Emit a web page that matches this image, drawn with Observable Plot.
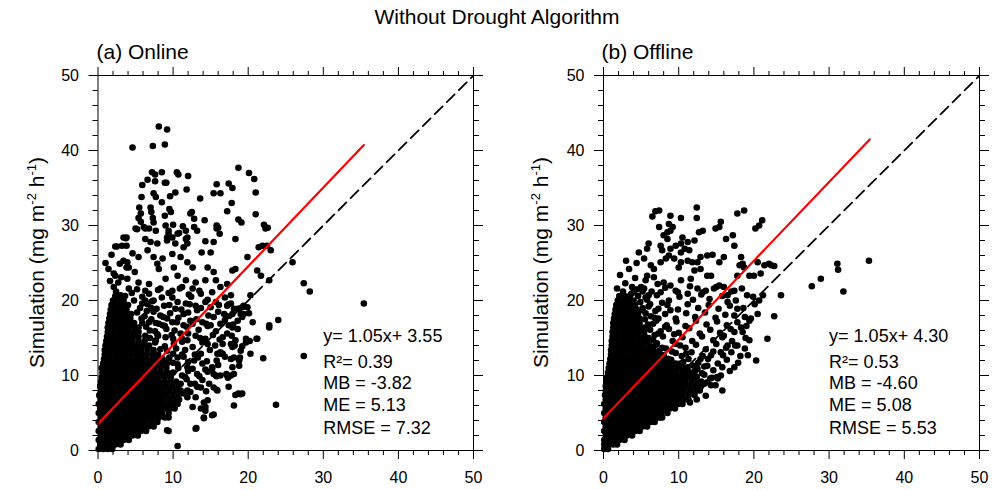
<!DOCTYPE html>
<html>
<head>
<meta charset="utf-8">
<script src="https://cdn.jsdelivr.net/npm/d3@7"></script>
<script src="https://cdn.jsdelivr.net/npm/@observablehq/plot@0.6"></script>
<style>
  html, body { margin: 0; padding: 0; background: #fff; }
  #wrap { position: relative; width: 1002px; height: 490px; overflow: hidden; font-family: "Liberation Sans", Arial, Helvetica, sans-serif; }
  #wrap > svg, #wrap > figure { position: absolute; top: 0; margin: 0; }
</style>
</head>
<body>
<div id="wrap"></div>
<script>
// ---------------- DATA ----------------
const mainTitle = "Without Drought Algorithm";
const panelTitles = ["(a) Online", "(b) Offline"];
const majorTicks = [0, 10, 20, 30, 40, 50];
const tickLabels = ["0", "10", "20", "30", "40", "50"];
const minorTicks = [2, 4, 6, 8, 12, 14, 16, 18, 22, 24, 26, 28, 32, 34, 36, 38, 42, 44, 46, 48];
const oneToOne = [0, 50];

const onlineFit = { slope: 1.05, intercept: 3.55, xMax: 35.4 };
const offlineFit = { slope: 1.05, intercept: 4.30, xMax: 35.4 };
const onlineStats = ["y= 1.05x+ 3.55", "R\u00B2= 0.39", "MB = -3.82", "ME = 5.13", "RMSE = 7.32"];
const offlineStats = ["y= 1.05x+ 4.30", "R\u00B2= 0.53", "MB = -4.60", "ME = 5.08", "RMSE = 5.53"];

// (a) Online: individually read points [observation, simulation]
const onlineSparse = [
  [8.1,43.2],[9.2,42.8],[4.6,40.4],[7.3,40.6],[8.9,40.8],[18.7,37.7],[20.1,37.0],[20.8,36.2],[21.0,34.4],
  [7.2,37.1],[7.6,36.8],[8.5,37.1],[10.5,37.1],[10.7,36.8],[12.0,36.6],[6.6,36.1],[5.9,35.4],[7.6,35.9],
  [8.9,35.7],[9.1,35.7],[7.4,34.3],[7.7,33.8],[5.8,33.8],[8.5,33.1],[9.6,33.9],[10.3,34.4],[11.8,34.8],
  [13.6,33.6],[15.4,34.3],[16.3,34.3],[15.8,35.5],[17.4,35.6],[17.9,35.0],[17.8,33.0],[17.2,31.9],[21.0,31.5],
  [18.7,30.8],[19.1,30.4],[22.1,30.1],[22.6,29.7],[5.5,32.4],[7.0,32.4],[5.7,31.6],[7.1,31.8],[9.5,32.2],
  [9.7,31.8],[8.9,31.3],[5.4,31.0],[5.7,30.5],[7.3,31.0],[7.4,30.4],[12.5,31.8],[12.8,30.9],[14.2,30.7],
  [5.0,29.6],[6.1,29.8],[6.8,29.6],[9.0,30.0],[10.0,30.1],[11.3,29.9],[12.8,29.8],[15.8,30.0],[16.0,29.7],
  [12.3,31.6],[9.4,28.9],[9.9,28.4],[9.2,28.4],[10.6,28.9],[11.9,28.4],[11.4,27.1],[3.4,28.4],[3.8,28.4],
  [2.5,27.2],[3.8,27.3],[2.1,23.6],[3.4,25.3],[3.8,24.4],
  [5.2,29.5],[6.3,29.6],[7.7,29.3],[9.4,29.3],[10.8,29.0],[11.7,29.3],[13.2,29.3],[15.8,29.6],[16.2,28.9],[22.3,29.6],
  [3.7,28.3],[3.2,27.3],[2.3,27.2],[6.3,28.2],[7.0,27.8],[7.9,27.6],[9.2,28.0],[10.3,27.6],[11.7,28.2],[11.9,27.6],
  [14.3,27.9],[15.4,27.8],[18.3,28.2],[21.9,27.3],[6.6,26.7],[5.4,25.8],[3.9,25.1],[4.1,24.4],[7.4,25.8],[8.6,25.6],
  [9.9,26.2],[11.0,25.8],[13.8,26.4],[15.0,26.4],[19.9,25.8],[21.4,27.1],[1.0,25.0],[7.9,24.9],[8.1,24.2],[10.1,24.4],
  [11.9,25.1],[12.6,24.4],[14.6,24.4],[15.4,23.8],[17.9,24.0],[18.3,24.2],[21.2,24.0],[2.3,23.3],[3.9,22.9],[5.4,22.4],
  [6.8,22.2],[9.0,22.9],[10.6,23.3],[11.7,22.7],[13.0,22.4],[14.3,22.7],[15.7,22.7],[17.2,22.2],[21.7,23.3],
  [2.1,21.8],[4.1,21.6],[6.3,21.3],[8.3,21.6],[9.9,21.3],[11.2,21.8],[12.6,21.6],[13.7,20.9],[15.2,21.1],[16.3,21.8],
  [17.7,20.7],[20.3,20.7],[22.8,22.7],[3.0,20.7],[3.2,19.8],[2.8,19.1],[2.3,18.4],[3.0,17.8],[3.7,18.4],[4.1,17.6],
  [6.3,20.0],[7.4,20.0],[8.8,19.3],[9.9,20.4],[10.3,18.9],[11.7,19.6],[13.0,19.3],[14.3,19.8],[15.7,19.8],
  [17.2,19.3],[18.8,18.9],[19.4,19.3],[17.9,18.2],[1.7,17.1],[2.8,16.7],[4.1,16.7],[5.4,16.4],[6.8,17.1],[8.6,16.7],
  [9.9,17.1],[11.4,16.7],[12.6,16.9],[13.9,17.1],[15.0,16.7],[16.3,16.9],[17.4,16.7],[19.2,17.8],[20.6,17.1],[21.2,14.9],
  [22.8,16.7],[2.3,15.3],[3.7,14.9],[6.3,15.3],[7.7,14.7],[9.0,15.1],[11.2,14.9],[13.0,15.3],[14.3,14.9],[16.6,15.1],
  [18.3,14.7],[19.7,14.9],
  [35.4,19.6],[24.0,17.4],[22.8,16.4],[27.4,12.6],[23.7,6.1],[10.6,0.6],[22.0,12.3],[21.1,14.9],[20.2,14.6],[19.7,14.4],
  [20.3,12.9],[19.0,13.3],[18.9,12.4],[18.1,6.0],[18.7,7.6],[19.0,7.5],[17.4,8.5],[17.7,10.0],[18.1,10.2],[16.3,12.9],
  [15.8,9.9],[15.8,8.1],[13.1,3.0],[14.1,4.3],[15.4,4.8],[13.7,5.6],[14.3,5.8],[19.0,18.2],[19.9,19.1],[17.4,19.5],
  [9.4,2.6],[12.3,8.9],[11.9,7.1],[17.2,15.6],[17.7,14.2],
  [18.8,11.3],[17.9,13.8],[17.7,12.2],[16.6,12.9],[16.3,10.0],[17.2,10.0],[15.2,10.9],[15.7,10.0],[15.4,8.4],[14.3,5.3],
  [13.0,2.9],[12.6,5.8],[12.3,7.8],[14.1,6.4],[18.2,14.0],[19.2,13.9],[18.1,12.4],[18.8,12.0],[17.9,11.1],[17.1,10.2],
  [17.3,9.7],[18.3,7.4],[19.2,7.6],[15.8,12.0],[15.4,10.2],[15.9,8.0],[14.6,6.7],[15.2,4.7],[14.1,4.4],[9.2,2.7],
  [9.4,4.4],[16.3,13.1],[16.6,14.2],[17.9,16.4],[18.6,17.3],[19.4,18.2],[19.2,19.1],[14.6,14.2],[13.7,12.9],[12.8,12.0],
  [11.9,11.1],[13.2,10.2],[11.0,8.9],[11.4,7.6],[10.6,6.7],[13.0,7.1],[13.7,8.4],[14.8,8.9],
  [15.2,11.1],[11.4,18.2],[12.3,17.3],[13.2,18.7],[15.0,19.1],[15.4,17.8],[16.8,18.2],[17.7,19.6],[18.6,18.9],
  [11.0,15.6],[11.9,14.7],[10.1,14.2],[9.2,13.3],[10.6,12.4],[8.8,11.6],[0.2,7.3],
  [25.9,25.1],[27.4,22.3],[28.2,21.2],[22.5,27.3],[23.0,26.7],
  [1.6,22.6],[2.7,22.4],[1.4,24.2],[2.9,24.9],[1.8,26.1],[4.6,26.3],[4.9,23.8],[3.1,23.1],[4.5,21.0],[2.4,21.2]
];
// (a) Online: medium-density band (estimated)
const onlineMedium = [
  [5.2,21.5],[6.8,20.9],[8.0,21.4],[9.4,21.0],[10.9,21.6],[12.1,20.8],[13.5,21.3],
  [4.8,20.0],[5.9,20.5],[7.2,19.9],[8.5,20.4],[10.6,19.8],[12.4,20.5],[14.6,20.1],[16.9,20.4],
  [5.6,19.0],[6.6,19.5],[7.8,18.9],[9.5,19.4],[11.1,18.8],[12.2,19.5],[13.7,19.0],[16.1,19.4],[18.1,18.9],
  [5.2,18.4],[6.2,17.9],[7.4,18.5],[8.7,17.8],[9.6,18.3],[10.7,17.7],[12.0,18.4],[14.7,18.0],[16.0,18.5],[17.2,17.9],[20.1,18.3],
  [5.9,17.0],[7.1,17.5],[8.1,16.9],[9.2,17.6],[10.5,17.1],[13.1,17.5],[14.4,16.9],[16.9,17.4],[18.0,16.8],
  [6.4,16.5],[7.6,15.9],[8.9,16.6],[10.2,16.0],[11.8,16.5],[13.4,16.1],[14.6,16.6],[15.7,15.9],[18.6,16.2],
  [6.9,15.0],[7.9,15.5],[10.0,14.9],[12.0,15.6],[13.6,15.0],[15.3,15.4],[16.2,14.8],[17.8,15.3],
  [7.6,14.4],[8.9,13.9],[11.2,14.5],[12.6,13.8],[13.9,14.4],[15.6,14.0],
  [8.3,13.5],[10.0,12.9],[11.6,13.4],[12.9,12.8],[14.9,13.4],[15.9,12.9],
  [9.4,12.0],[11.4,12.5],[12.0,11.8],[13.3,12.4],[14.5,11.9],[16.9,12.5],
  [10.6,11.5],[12.6,10.9],[13.9,11.6],[14.3,10.8],[16.0,11.4],
  [11.2,10.0],[12.0,10.6],[13.5,9.9],[14.6,10.5],
  [11.8,9.5],[12.9,8.9],[13.9,9.4],[11.9,8.0],[13.2,8.5],[14.4,7.9],
  [5.8,17.6],[6.5,18.6],[5.9,19.6],[6.9,16.0],[7.7,17.0],[8.3,18.0],[7.1,19.0],[8.0,15.3],[9.1,16.2],[9.8,15.4],
  [10.4,13.6],[9.5,12.4],[10.7,11.0],[11.6,9.8],[11.2,12.8],[10.0,11.7]
];
// (a) Online: dense core, rows of [simulation, observation, observation, ...]
const onlineDense = [
  [0.2, 0.1, 0.7, 1.3, 1.9],
  [0.8, 0.3, 0.9, 1.6, 2.3, 3.0],
  [1.4, 0.1, 0.7, 1.3, 2.0, 2.7, 3.4, 4.1],
  [2.0, 0.4, 1.0, 1.7, 2.4, 3.1, 3.8, 4.6, 5.3],
  [2.6, 0.1, 0.7, 1.4, 2.1, 2.8, 3.5, 4.2, 4.9, 5.7, 6.4],
  [3.2, 0.4, 1.0, 1.7, 2.4, 3.1, 3.8, 4.5, 5.2, 6.0, 6.7, 7.4],
  [3.8, 0.1, 0.7, 1.4, 2.1, 2.8, 3.5, 4.2, 4.9, 5.6, 6.3, 7.1, 7.9],
  [4.4, 0.4, 1.0, 1.7, 2.4, 3.1, 3.8, 4.5, 5.2, 5.9, 6.6, 7.3, 8.1, 8.9],
  [5.0, 0.1, 0.7, 1.4, 2.1, 2.8, 3.5, 4.2, 4.9, 5.6, 6.3, 7.0, 7.7, 8.5, 9.4],
  [5.6, 0.3, 1.0, 1.7, 2.4, 3.1, 3.8, 4.5, 5.2, 5.9, 6.6, 7.3, 8.0, 8.8, 9.6, 10.2],
  [6.2, 0.1, 0.7, 1.4, 2.1, 2.8, 3.5, 4.2, 4.9, 5.6, 6.3, 7.0, 7.7, 8.4, 9.2, 10.0, 10.6],
  [6.8, 0.4, 1.0, 1.7, 2.4, 3.1, 3.8, 4.5, 5.2, 5.9, 6.6, 7.3, 8.0, 8.7, 9.5, 10.3, 10.8],
  [7.4, 0.2, 0.7, 1.4, 2.1, 2.8, 3.5, 4.2, 4.9, 5.6, 6.3, 7.0, 7.7, 8.4, 9.1, 9.9, 10.7],
  [8.0, 0.4, 1.0, 1.7, 2.4, 3.1, 3.8, 4.5, 5.2, 5.9, 6.6, 7.3, 8.0, 8.7, 9.5, 10.3, 11.0],
  [8.6, 0.3, 0.7, 1.4, 2.1, 2.8, 3.5, 4.2, 4.9, 5.6, 6.3, 7.0, 7.7, 8.4, 9.1, 9.9, 10.7],
  [9.2, 0.4, 1.0, 1.7, 2.4, 3.1, 3.8, 4.5, 5.2, 5.9, 6.6, 7.3, 8.0, 8.8, 9.6, 10.4],
  [9.8, 0.5, 1.1, 1.8, 2.5, 3.2, 3.9, 4.6, 5.3, 6.0, 6.7, 7.4, 8.1, 8.9, 9.7],
  [10.4, 0.6, 1.3, 2.0, 2.7, 3.4, 4.1, 4.8, 5.5, 6.2, 6.9, 7.6, 8.4, 9.2, 10.0],
  [11.0, 0.5, 1.1, 1.8, 2.5, 3.2, 3.9, 4.6, 5.3, 6.0, 6.7, 7.5, 8.3, 9.1],
  [11.6, 0.7, 1.4, 2.1, 2.8, 3.5, 4.2, 4.9, 5.6, 6.3, 7.0, 7.8, 8.6, 9.2],
  [12.2, 0.8, 1.5, 2.2, 2.9, 3.6, 4.3, 5.0, 5.7, 6.4, 7.2, 8.0, 8.6],
  [12.8, 0.9, 1.6, 2.3, 3.0, 3.7, 4.4, 5.1, 5.8, 6.5, 7.3, 8.0],
  [13.4, 0.9, 1.6, 2.3, 3.0, 3.7, 4.4, 5.1, 5.8, 6.6, 7.4],
  [14.0, 1.0, 1.7, 2.4, 3.1, 3.8, 4.5, 5.2, 6.0, 6.8],
  [14.6, 1.1, 1.8, 2.5, 3.2, 3.9, 4.6, 5.4, 6.2],
  [15.2, 1.2, 1.9, 2.6, 3.3, 4.0, 4.7, 5.4],
  [15.8, 1.3, 2.0, 2.7, 3.4, 4.1, 4.8, 5.4],
  [16.4, 1.3, 2.0, 2.7, 3.4, 4.1, 4.9],
  [17.0, 1.4, 2.1, 2.8, 3.5, 4.2, 4.8],
  [17.6, 1.5, 2.2, 2.9, 3.6, 4.3],
  [18.2, 1.6, 2.3, 3.0, 3.7, 4.4],
  [18.8, 1.7, 2.4, 3.1, 3.8],
  [19.4, 1.8, 2.5, 3.2, 4.0],
  [20.0, 2.0, 2.7, 3.4],
  [20.6, 2.3, 3.0, 3.6]
];

// (b) Offline: individually read points
const offlineSparse = [
  [12.4,32.4],[6.9,31.9],[7.4,32.0],[6.5,31.2],[8.9,31.3],[10.3,31.0],[12.4,31.0],[17.8,31.6],[18.7,32.0],[21.1,30.7],
  [20.7,30.0],[20.2,29.6],[15.6,30.5],[14.9,29.6],[15.4,29.8],[7.4,29.8],[8.7,30.2],[9.2,29.8],[8.5,29.1],[8.9,29.3],
  [12.7,29.1],[13.2,29.3],[16.3,28.2],[17.2,28.7],[17.4,27.3],[8.0,28.7],[8.5,28.2],[10.5,28.4],[11.2,27.8],[12.1,28.0],
  [6.0,27.6],[5.8,26.9],[4.7,26.4],[7.6,27.3],[7.8,26.7],[8.9,26.9],[9.6,27.3],[10.3,26.4],[10.8,26.9],[11.4,26.7],
  [10.3,27.6],[12.9,25.8],[13.8,26.0],[14.5,26.1],[15.4,25.1],[16.0,25.8],[18.3,25.8],[18.5,24.9],[18.1,24.7],[18.7,24.4],
  [20.5,25.1],[21.4,24.7],[22.0,24.9],[22.7,24.6],[20.9,23.6],[20.0,23.3],[19.4,23.3],[17.8,23.3],[23.6,20.7],[21.2,20.7],
  [5.4,25.6],[6.3,24.7],[6.7,24.2],[5.8,23.3],[6.7,23.1],[7.6,25.1],[8.3,25.6],[8.7,26.0],[9.4,25.6],[10.3,25.1],
  [10.0,24.4],[11.2,25.3],[11.8,25.1],[12.5,25.1],[12.1,24.0],[12.9,24.2],[13.8,23.3],[14.3,23.3],[11.6,22.9],[10.3,22.7],
  [8.9,22.0],[8.0,22.4],[7.2,22.2],[5.6,22.7],[5.4,21.6],[3.8,21.8],[4.0,21.1],[6.0,20.7],[7.6,21.1],[9.6,21.3],
  [11.2,20.9],[12.5,21.6],[13.2,21.1],[14.7,21.6],[15.4,22.0],[17.4,21.3],[16.5,20.7],[16.0,21.8],[19.1,20.7],
  [22.7,17.9],[21.8,14.9],[20.3,12.0],[20.7,20.0],[19.6,17.6],[19.4,17.3],[19.4,14.7],[17.8,14.0],[18.8,13.6],[19.2,12.7],
  [17.4,11.1],[15.1,9.8],[17.8,18.9],[17.4,18.0],[16.5,19.8],[18.3,16.4],[17.4,15.8],[16.0,15.3],[16.5,14.0],[15.6,13.1],
  [14.3,12.7],[12.9,12.2],[13.8,11.3],[12.5,10.9],[11.2,10.4],[10.7,9.8],
  [15.2,9.6],[15.8,8.0],[14.3,8.7],[13.6,7.3],[12.4,6.8],[11.5,6.4],[9.8,6.4],[7.6,4.4],[5.8,3.8],
  [35.3,25.3],[31.1,24.9],[31.2,24.1],[31.9,21.2],[27.7,21.9],[28.9,22.9],[22.3,24.7],
  [1.8,21.6],[2.9,22.3],[2.2,23.4],[3.4,24.2],[4.2,23.0],[3.0,25.3],[4.4,25.0],[2.6,21.2]
];
// (b) Offline: medium-density band (estimated)
const offlineMedium = [
  [5.0,21.8],[6.4,21.2],[8.2,21.7],[9.9,21.1],[11.5,21.9],[13.6,21.3],[15.0,21.8],[17.0,21.2],[18.4,21.6],
  [4.6,20.6],[5.8,20.1],[7.1,20.7],[8.7,20.0],[10.1,20.5],[11.9,20.1],[13.0,20.8],[14.1,20.2],[15.8,20.6],[17.6,20.0],[19.9,20.5],
  [5.2,19.0],[6.2,19.5],[7.3,18.9],[8.5,19.4],[9.9,18.8],[11.2,19.5],[12.6,19.0],[14.0,19.4],[15.3,18.9],[16.8,19.3],[18.6,19.0],[20.1,19.5],
  [5.6,18.3],[6.8,17.7],[8.2,18.2],[9.6,17.6],[11.0,18.3],[12.2,17.8],[13.5,18.4],[14.9,17.7],[16.2,18.1],[18.8,17.8],[20.5,18.2],
  [5.9,16.8],[7.0,17.3],[8.4,16.7],[9.7,17.2],[10.9,16.6],[12.3,17.3],[13.7,16.8],[15.1,17.2],[16.4,16.7],[17.8,17.1],[19.0,16.6],
  [6.2,16.1],[7.3,15.6],[8.7,16.2],[10.0,15.7],[11.4,16.3],[12.8,15.6],[14.2,16.1],[15.5,15.7],[16.9,16.2],[18.5,15.8],
  [6.6,14.7],[7.9,15.2],[9.2,14.6],[10.5,15.1],[11.8,14.6],[13.1,15.2],[14.6,14.7],[15.8,15.1],[17.1,14.6],[18.9,15.0],
  [7.0,14.1],[8.3,13.6],[9.6,14.2],[10.9,13.7],[12.3,14.1],[13.6,13.5],[15.0,14.2],[16.3,13.7],[17.5,14.0],
  [8.0,12.7],[9.1,13.2],[10.4,12.6],[11.7,13.1],[13.2,12.6],[14.6,13.2],[15.9,12.7],[17.0,13.1],[18.2,12.6],
  [9.0,12.1],[10.2,11.6],[11.3,12.2],[12.6,11.7],[13.9,12.2],[15.2,11.6],[16.4,12.1],[17.9,11.7],
  [11.2,11.1],[12.2,10.6],[13.4,11.2],[14.6,10.7],[15.8,11.1],[16.8,10.6],
  [13.4,10.1],[14.4,9.7],[15.6,10.0],[13.8,9.1],[14.9,8.7],
  [6.7,12.9],[7.4,13.3],[6.4,13.8],[7.1,14.3],[6.0,15.0],[6.8,15.4],[5.9,16.4],[6.6,16.9],[5.5,17.5],[6.3,17.9],
  [5.2,18.7],[6.0,19.2],[4.9,19.8],[5.6,20.4],[7.8,13.7],[8.6,12.2],[7.6,15.9],[7.3,17.6],[8.2,16.5],[4.5,21.5],
  [3.7,20.9],[5.2,21.2],[6.9,18.6],[7.8,19.7],[8.9,18.7],[9.4,15.5],[10.2,14.0],[9.6,13.0],[11.0,12.9],[10.6,11.8],
  [12.0,11.3],[13.1,10.3],[12.0,9.9],[13.4,8.9],[12.7,8.1],[14.2,9.6]
];
// (b) Offline: dense core rows
const offlineDense = [
  [0.2, 0.1, 0.6],
  [0.8, 0.1, 0.7, 1.3, 1.8],
  [1.4, 0.1, 0.7, 1.4, 2.1, 2.8],
  [2.0, 0.3, 1.0, 1.7, 2.4, 3.1, 3.8],
  [2.6, 0.1, 0.7, 1.4, 2.1, 2.8, 3.5, 4.2, 4.8],
  [3.2, 0.3, 1.0, 1.7, 2.4, 3.1, 3.8, 4.5, 5.2, 5.8],
  [3.8, 0.1, 0.7, 1.4, 2.1, 2.8, 3.5, 4.2, 4.9, 5.6, 6.3, 6.8],
  [4.4, 0.3, 1.0, 1.7, 2.4, 3.1, 3.8, 4.5, 5.2, 5.9, 6.6, 7.3, 7.8],
  [5.0, 0.1, 0.7, 1.4, 2.1, 2.8, 3.5, 4.2, 4.9, 5.6, 6.3, 7.0, 7.7, 8.5],
  [5.6, 0.3, 1.0, 1.7, 2.4, 3.1, 3.8, 4.5, 5.2, 5.9, 6.6, 7.3, 8.0, 8.8, 9.5],
  [6.2, 0.1, 0.7, 1.4, 2.1, 2.8, 3.5, 4.2, 4.9, 5.6, 6.3, 7.0, 7.7, 8.4, 9.1, 9.9, 10.5],
  [6.8, 0.3, 1.0, 1.7, 2.4, 3.1, 3.8, 4.5, 5.2, 5.9, 6.6, 7.3, 8.0, 8.7, 9.4, 10.1, 10.8, 11.3],
  [7.4, 0.2, 0.8, 1.4, 2.1, 2.8, 3.5, 4.2, 4.9, 5.6, 6.3, 7.0, 7.7, 8.4, 9.1, 9.8, 10.5, 11.3, 12.1],
  [8.0, 0.3, 1.0, 1.7, 2.4, 3.1, 3.8, 4.5, 5.2, 5.9, 6.6, 7.3, 8.0, 8.7, 9.4, 10.1, 10.8, 11.6, 12.4, 12.8],
  [8.6, 0.3, 0.9, 1.5, 2.2, 2.9, 3.6, 4.3, 5.0, 5.7, 6.4, 7.1, 7.8, 8.5, 9.2, 9.9, 10.6, 11.4, 12.2, 13.0],
  [9.2, 0.4, 1.1, 1.8, 2.5, 3.2, 3.9, 4.6, 5.3, 6.0, 6.7, 7.4, 8.1, 8.8, 9.5, 10.2, 10.9, 11.7, 12.5, 13.0],
  [9.8, 0.5, 1.2, 1.9, 2.6, 3.3, 4.0, 4.7, 5.4, 6.1, 6.8, 7.5, 8.2, 8.9, 9.6, 10.3, 11.1, 11.9, 12.4],
  [10.4, 0.6, 1.3, 2.0, 2.7, 3.4, 4.1, 4.8, 5.5, 6.2, 6.9, 7.6, 8.3, 9.0, 9.7, 10.5, 11.3, 11.6],
  [11.0, 0.7, 1.4, 2.1, 2.8, 3.5, 4.2, 4.9, 5.6, 6.3, 7.0, 7.7, 8.4, 9.1, 9.9, 10.6],
  [11.6, 0.8, 1.5, 2.2, 2.9, 3.6, 4.3, 5.0, 5.7, 6.4, 7.1, 7.8, 8.5, 9.2, 9.6],
  [12.2, 0.9, 1.6, 2.3, 3.0, 3.7, 4.4, 5.1, 5.8, 6.5, 7.2, 7.9, 8.6],
  [12.8, 1.0, 1.7, 2.4, 3.1, 3.8, 4.5, 5.2, 5.9, 6.6, 7.3, 7.6],
  [13.4, 1.0, 1.7, 2.4, 3.1, 3.8, 4.5, 5.2, 5.9, 6.6],
  [14.0, 1.1, 1.8, 2.5, 3.2, 3.9, 4.6, 5.3, 6.1],
  [14.6, 1.1, 1.8, 2.5, 3.2, 3.9, 4.6, 5.3, 5.8],
  [15.2, 1.2, 1.9, 2.6, 3.3, 4.0, 4.7, 5.5],
  [15.8, 1.2, 1.9, 2.6, 3.3, 4.0, 4.7, 5.4],
  [16.4, 1.3, 2.0, 2.7, 3.4, 4.1, 4.8, 5.2],
  [17.0, 1.3, 2.0, 2.7, 3.4, 4.1, 4.8],
  [17.6, 1.4, 2.1, 2.8, 3.5, 4.2, 4.8],
  [18.2, 1.5, 2.2, 2.9, 3.6, 4.3, 4.6],
  [18.8, 1.6, 2.3, 3.0, 3.7, 4.4],
  [19.4, 1.7, 2.4, 3.1, 3.8, 4.2],
  [20.0, 1.9, 2.6, 3.3, 4.0],
  [20.6, 2.1, 2.8, 3.5]
];

// ---------------- BUILD ----------------
const FONT = '"Liberation Sans", Arial, Helvetica, sans-serif';
function expandRows(rows) {
  const out = [];
  for (const r of rows) for (let i = 1; i < r.length; i++) out.push([r[i], r[0]]);
  return out;
}
function fitLine(f) {
  return [0, f.xMax].map(x => ({ x, y: f.slope * x + f.intercept }));
}
const statYs = [15.2, 11.8, 9.0, 6.1, 3.0];

function panel(points, fit, stats, marginLeft, marginRight) {
  return Plot.plot({
    width: 501,
    height: 490,
    marginLeft, marginRight,
    marginTop: 75,
    marginBottom: 40,
    x: { domain: [0, 50] },
    y: { domain: [0, 50] },
    style: { fontFamily: FONT, fontSize: "16px", color: "#000", background: "transparent", overflow: "visible" },
    marks: [
      Plot.axisX({ anchor: "bottom", ticks: minorTicks, tickSize: 5, tickFormat: () => "", label: null, strokeWidth: 1 }),
      Plot.axisX({ anchor: "top", ticks: minorTicks, tickSize: 5, tickFormat: () => "", label: null, strokeWidth: 1 }),
      Plot.axisY({ anchor: "left", ticks: minorTicks, tickSize: 5, tickFormat: () => "", label: null, strokeWidth: 1 }),
      Plot.axisY({ anchor: "right", ticks: minorTicks, tickSize: 5, tickFormat: () => "", label: null, strokeWidth: 1 }),
      Plot.axisX({ anchor: "bottom", ticks: majorTicks, tickSize: 9, tickPadding: 12, fontSize: 16,
                   tickFormat: d => tickLabels[majorTicks.indexOf(d)], label: null, strokeWidth: 1 }),
      Plot.axisX({ anchor: "top", ticks: majorTicks, tickSize: 9, tickFormat: () => "", label: null, strokeWidth: 1 }),
      Plot.axisY({ anchor: "left", ticks: majorTicks, tickSize: 9, tickPadding: 10, fontSize: 16,
                   tickFormat: d => tickLabels[majorTicks.indexOf(d)], label: null, strokeWidth: 1 }),
      Plot.axisY({ anchor: "right", ticks: majorTicks, tickSize: 9, tickFormat: () => "", label: null, strokeWidth: 1 }),
      Plot.dot(points, { x: d => d[0], y: d => d[1], r: 3.3, fill: "#000", stroke: "none" }),
      Plot.line(oneToOne, { x: d => d, y: d => d, stroke: "#000", strokeWidth: 1.8, strokeDasharray: "11,6" }),
      Plot.line(fitLine(fit), { x: "x", y: "y", stroke: "#ff0000", strokeWidth: 2.2 }),
      Plot.text(stats, { x: 30, y: (d, i) => statYs[i], text: d => d, textAnchor: "start", fontSize: 18, fill: "#000" }),
      Plot.frame({ stroke: "#000", strokeWidth: 1 })
    ]
  });
}

const wrap = document.getElementById("wrap");
const onlinePoints = onlineSparse.concat(onlineMedium, expandRows(onlineDense));
const offlinePoints = offlineSparse.concat(offlineMedium, expandRows(offlineDense));
const pa = panel(onlinePoints, onlineFit, onlineStats, 97.5, 28);
const pb = panel(offlinePoints, offlineFit, offlineStats, 102, 23);
pa.style.left = "0px";
pb.style.left = "501px";
wrap.appendChild(pa);
wrap.appendChild(pb);

// titles and axis labels
const ov = d3.select(wrap).append("svg")
  .attr("width", 1002).attr("height", 490)
  .style("left", "0px").style("pointer-events", "none")
  .attr("font-family", FONT).attr("fill", "#000");
ov.append("text").attr("x", 497).attr("y", 23.5).attr("text-anchor", "middle").attr("font-size", 21).text(mainTitle);
ov.append("text").attr("x", 96.5).attr("y", 58.5).attr("font-size", 21).text(panelTitles[0]);
ov.append("text").attr("x", 601.5).attr("y", 58.5).attr("font-size", 21).text(panelTitles[1]);
for (const cx of [43.5, 548]) {
  const t = ov.append("text").attr("transform", `translate(${cx},262.5) rotate(-90)`)
    .attr("text-anchor", "middle").attr("font-size", 21);
  t.append("tspan").text("Simulation (mg m");
  t.append("tspan").attr("font-size", 13).attr("dy", -8).text("-2");
  t.append("tspan").attr("dy", 8).text(" h");
  t.append("tspan").attr("font-size", 13).attr("dy", -8).text("-1");
  t.append("tspan").attr("dy", 8).text(")");
}
</script>
</body>
</html>
